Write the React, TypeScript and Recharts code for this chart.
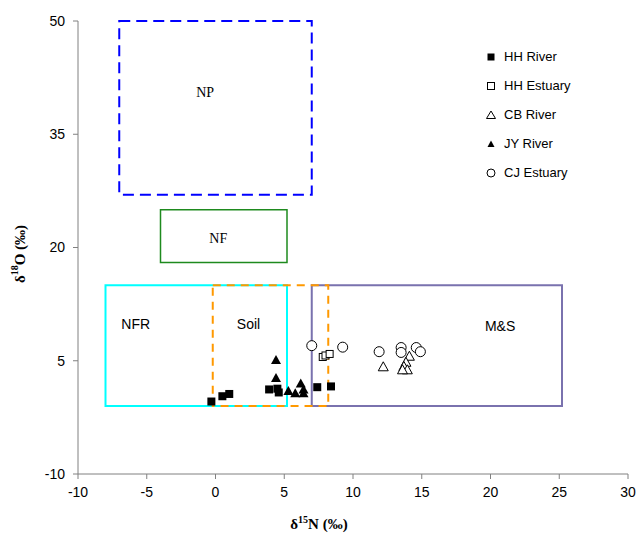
import React from 'react';
import { ScatterChart, Scatter, XAxis, YAxis, ReferenceArea, ReferenceDot, Legend, Label } from 'recharts';

const xTicks = [-10, -5, 0, 5, 10, 15, 20, 25, 30];
const yTicks = [-10, 5, 20, 35, 50];

// source zones: [x1, x2, y1, y2]
const npZone = [-7, 7, 27, 50];
const nfZone = [-4, 5.2, 18, 25];
const nfrZone = [-8, 5.2, -1, 15];
const soilZone = [-0.2, 8.2, -1, 15];
const msZone = [7, 25.2, -1, 15];

// zone label anchors [x, y]
const npLabel = [-0.75, 40.6];
const nfLabel = [0.2, 21.3];
const nfrLabel = [-5.8, 9.8];
const soilLabel = [2.4, 9.8];
const msLabel = [20.7, 9.6];

const hhRiver = [
  { x: -0.3, y: -0.4 },
  { x: 0.5, y: 0.3 },
  { x: 1.0, y: 0.6 },
  { x: 3.9, y: 1.2 },
  { x: 4.5, y: 1.3 },
  { x: 4.6, y: 0.8 },
  { x: 7.4, y: 1.5 },
  { x: 8.4, y: 1.6 },
];

const hhEstuary = [
  { x: 7.8, y: 5.5 },
  { x: 8.0, y: 5.7 },
  { x: 8.3, y: 5.9 },
];

const cbRiver = [
  { x: 12.2, y: 4.2 },
  { x: 14.1, y: 5.6 },
  { x: 13.85, y: 4.8 },
  { x: 13.7, y: 4.25 },
  { x: 13.95, y: 3.8 },
  { x: 13.6, y: 3.8 },
];

const jyRiver = [
  { x: 4.4, y: 5.1 },
  { x: 4.4, y: 2.7 },
  { x: 5.3, y: 1.0 },
  { x: 5.8, y: 0.7 },
  { x: 6.2, y: 2.0 },
  { x: 6.4, y: 1.2 },
  { x: 6.4, y: 0.7 },
];

const cjEstuary = [
  { x: 7.0, y: 7.0 },
  { x: 9.25, y: 6.8 },
  { x: 11.9, y: 6.2 },
  { x: 13.5, y: 6.75 },
  { x: 13.5, y: 6.1 },
  { x: 14.6, y: 6.75 },
  { x: 14.9, y: 6.2 },
];

const legendNames = ['HH River', 'HH Estuary', 'CB River', 'JY River', 'CJ Estuary'];

const sans = '"Liberation Sans", Arial, sans-serif';
const serif = '"Liberation Serif", "Times New Roman", serif';
const axisGray = '#808080';

const FilledSquare = (p: any) => <rect x={p.cx - 4} y={p.cy - 4} width={8} height={8} fill="#000" />;
const OpenSquare = (p: any) => (
  <rect x={p.cx - 3.5} y={p.cy - 3.5} width={7} height={7} fill="#fff" stroke="#000" strokeWidth={1} />
);
const OpenTriangle = (p: any) => (
  <path d={`M${p.cx},${p.cy - 5} L${p.cx + 5},${p.cy + 4} L${p.cx - 5},${p.cy + 4} Z`} fill="#fff" stroke="#000" strokeWidth={1} />
);
const FilledTriangle = (p: any) => (
  <path d={`M${p.cx},${p.cy - 5} L${p.cx + 5},${p.cy + 4} L${p.cx - 5},${p.cy + 4} Z`} fill="#000" />
);
const OpenCircle = (p: any) => <circle cx={p.cx} cy={p.cy} r={5} fill="#fff" stroke="#000" strokeWidth={1} />;

const legendIcon = (i: number) => {
  const c = 7;
  if (i === 0) return <rect x={c - 3.5} y={c - 3.5} width={7} height={7} fill="#000" />;
  if (i === 1) return <rect x={c - 3.5} y={c - 3.5} width={7} height={7} fill="#fff" stroke="#000" />;
  if (i === 2) return <path d={`M${c},${c - 4} L${c + 4.5},${c + 3.5} L${c - 4.5},${c + 3.5} Z`} fill="#fff" stroke="#000" />;
  if (i === 3) return <path d={`M${c},${c - 3.5} L${c + 3.5},${c + 3} L${c - 3.5},${c + 3} Z`} fill="#000" />;
  return <circle cx={c} cy={c} r={4} fill="#fff" stroke="#000" />;
};

const renderLegend = () => (
  <div style={{ fontFamily: sans, fontSize: 13, color: '#000' }}>
    {legendNames.map((name, i) => (
      <div key={name} style={{ display: 'flex', alignItems: 'center', height: 29 }}>
        <svg width={14} height={14} style={{ marginRight: 6 }}>
          {legendIcon(i)}
        </svg>
        <span>{name}</span>
      </div>
    ))}
  </div>
);

const zoneText = (value: string, font: string) => ({
  value,
  position: 'center' as const,
  fill: '#000',
  fontSize: 14,
  fontFamily: font,
});

const App: React.FC = () => {
  return (
    <div style={{ position: 'absolute', left: 0, top: 0 }}>
      <ScatterChart width={638} height={536} margin={{ top: 21, right: 10, bottom: 2, left: 0 }}>
        <XAxis
          type="number"
          dataKey="x"
          domain={[-10, 30]}
          ticks={xTicks}
          interval={0}
          allowDataOverflow
          stroke={axisGray}
          tickSize={5}
          tickMargin={8}
          height={60}
          tick={{ fill: '#000', fontSize: 14, fontFamily: sans }}
        >
          <Label
            content={() => (
              <text x={319} y={529} textAnchor="middle" fontFamily={serif} fontWeight="bold" fontSize={15} fill="#000">
                δ<tspan dy={-6} fontSize={10}>15</tspan>
                <tspan dy={6}>N (‰)</tspan>
              </text>
            )}
          />
        </XAxis>
        <YAxis
          type="number"
          dataKey="y"
          domain={[-10, 50]}
          ticks={yTicks}
          interval={0}
          allowDataOverflow
          stroke={axisGray}
          tickSize={5}
          tickMargin={8}
          width={78}
          tick={{ fill: '#000', fontSize: 14, fontFamily: sans }}
        >
          <Label
            content={() => (
              <text
                x={22}
                y={254}
                transform="rotate(-90 22 254)"
                textAnchor="middle"
                dominantBaseline="middle"
                fontFamily={serif}
                fontWeight="bold"
                fontSize={15}
                fill="#000"
              >
                δ<tspan dy={-6} fontSize={10}>18</tspan>
                <tspan dy={6}>O (‰)</tspan>
              </text>
            )}
          />
        </YAxis>

        <ReferenceArea x1={npZone[0]} x2={npZone[1]} y1={npZone[2]} y2={npZone[3]} fill="none" stroke="#0000ff" strokeWidth={2} strokeDasharray="11 6" />
        <ReferenceArea x1={nfZone[0]} x2={nfZone[1]} y1={nfZone[2]} y2={nfZone[3]} fill="none" stroke="#1e8a1e" strokeWidth={1.5} />
        <ReferenceArea x1={nfrZone[0]} x2={nfrZone[1]} y1={nfrZone[2]} y2={nfrZone[3]} fill="none" stroke="#00ffff" strokeWidth={2} />
        <ReferenceArea x1={msZone[0]} x2={msZone[1]} y1={msZone[2]} y2={msZone[3]} fill="none" stroke="#7a72ae" strokeWidth={2} />
        <ReferenceArea x1={soilZone[0]} x2={soilZone[1]} y1={soilZone[2]} y2={soilZone[3]} fill="none" stroke="#ff9900" strokeWidth={2} strokeDasharray="8 6" />

        <ReferenceDot x={npLabel[0]} y={npLabel[1]} r={0} stroke="none" label={zoneText('NP', serif)} />
        <ReferenceDot x={nfLabel[0]} y={nfLabel[1]} r={0} stroke="none" label={zoneText('NF', serif)} />
        <ReferenceDot x={nfrLabel[0]} y={nfrLabel[1]} r={0} stroke="none" label={zoneText('NFR', sans)} />
        <ReferenceDot x={soilLabel[0]} y={soilLabel[1]} r={0} stroke="none" label={zoneText('Soil', sans)} />
        <ReferenceDot x={msLabel[0]} y={msLabel[1]} r={0} stroke="none" label={zoneText('M&S', sans)} />

        <Scatter name="HH River" data={hhRiver} shape={FilledSquare} isAnimationActive={false} />
        <Scatter name="HH Estuary" data={hhEstuary} shape={OpenSquare} isAnimationActive={false} />
        <Scatter name="CB River" data={cbRiver} shape={OpenTriangle} isAnimationActive={false} />
        <Scatter name="JY River" data={jyRiver} shape={FilledTriangle} isAnimationActive={false} />
        <Scatter name="CJ Estuary" data={cjEstuary} shape={OpenCircle} isAnimationActive={false} />

        <Legend
          layout="vertical"
          align="center"
          verticalAlign="middle"
          content={renderLegend}
          wrapperStyle={{ position: 'absolute', left: 484, top: 42, width: 140 }}
        />
      </ScatterChart>
    </div>
  );
};

export default App;
